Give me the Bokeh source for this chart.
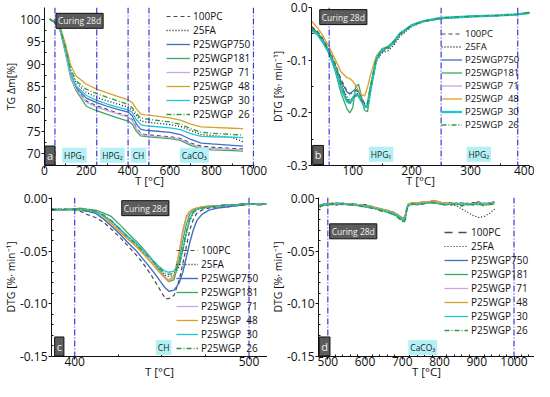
from bokeh.plotting import figure
from bokeh.models import Range1d, FixedTicker, Span, Label, Legend, LegendItem
from bokeh.layouts import column, row
from bokeh.embed import file_html
from bokeh.resources import INLINE

FONT = "Open Sans"

# ---------------- series definitions ----------------
names = ["100PC", "25FA", "P25WGP750", "P25WGP181", "P25WGP  71", "P25WGP  48", "P25WGP  30", "P25WGP  26"]
colors = ["#4a4a4a", "#1a1a1a", "#3d6fc6", "#3aa860", "#c9a6e2", "#d8a128", "#22c4d6", "#2f9a3c"]
dashes = ["4 3", "1 2", "solid", "solid", "solid", "solid", "solid", "5 2 1 2"]

# ---------------- panel a : TG ----------------
T_a = [25, 50, 75, 100, 125, 150, 200, 250, 300, 350, 400, 420, 440, 460, 480, 500, 600, 650, 700, 750, 800, 900, 950]
a_100PC = [100, 99.3, 97.7, 93.0, 87.5, 84.5, 81.8, 80.7, 79.9, 79.1, 78.4, 77.6, 75.7, 74.6, 74.3, 74.2, 73.8, 73.4, 72.4, 71.7, 71.5, 71.2, 71.1]
a_25FA = [100, 99.3, 97.9, 93.5, 88.5, 85.8, 83.7, 82.6, 81.8, 81.1, 80.4, 79.8, 78.5, 77.4, 77.1, 77.0, 76.5, 76.1, 75.2, 74.3, 74.1, 73.6, 72.7]
a_750 = [100, 99.3, 97.8, 93.2, 87.8, 84.8, 82.4, 81.4, 80.6, 79.9, 79.3, 78.5, 76.6, 75.5, 75.3, 75.2, 74.8, 74.3, 73.2, 72.4, 72.2, 71.9, 71.7]
a_181 = [100, 99.2, 97.5, 92.5, 87.0, 84.2, 80.6, 79.6, 78.8, 78.0, 77.3, 76.6, 75.0, 74.0, 73.9, 73.8, 73.4, 73.0, 71.9, 71.1, 70.9, 70.7, 70.6]
a_71 = [100, 99.3, 97.7, 92.9, 87.4, 84.4, 81.5, 80.4, 79.6, 78.9, 78.2, 77.4, 75.5, 74.4, 74.1, 74.0, 73.6, 73.2, 72.2, 71.4, 71.2, 71.0, 70.9]
a_48 = [100, 99.4, 98.3, 94.5, 89.8, 87.4, 85.5, 84.4, 83.6, 82.8, 82.0, 81.4, 80.0, 78.9, 78.7, 78.6, 78.0, 77.5, 76.6, 76.0, 75.9, 75.7, 75.6]
a_30 = [100, 99.3, 97.8, 93.3, 88.0, 85.2, 83.0, 81.9, 81.1, 80.4, 79.8, 79.2, 77.6, 76.5, 76.3, 76.2, 75.8, 75.4, 74.5, 73.9, 73.8, 73.7, 73.6]
a_26 = [100, 99.3, 98.0, 93.8, 88.9, 86.3, 84.4, 83.4, 82.6, 81.8, 81.0, 80.3, 79.0, 78.0, 77.8, 77.7, 77.1, 76.6, 75.6, 74.8, 74.6, 74.3, 74.2]

# ---------------- panel b : DTG 30-400 ----------------
T_b = [30, 40, 50, 60, 70, 80, 90, 95, 100, 105, 110, 115, 120, 125, 130, 140, 150, 160, 170, 180, 200, 220, 250, 300, 350, 380, 400]
b_100PC = [-0.036, -0.045, -0.060, -0.080, -0.106, -0.136, -0.158, -0.164, -0.162, -0.158, -0.160, -0.170, -0.184, -0.186, -0.152, -0.100, -0.084, -0.078, -0.068, -0.053, -0.035, -0.027, -0.021, -0.017, -0.015, -0.013, -0.010]
b_25FA = [-0.040, -0.048, -0.064, -0.084, -0.112, -0.145, -0.170, -0.176, -0.172, -0.163, -0.164, -0.172, -0.182, -0.182, -0.150, -0.102, -0.086, -0.082, -0.071, -0.055, -0.036, -0.027, -0.021, -0.017, -0.015, -0.013, -0.010]
b_750 = [-0.038, -0.047, -0.063, -0.083, -0.108, -0.140, -0.160, -0.164, -0.159, -0.155, -0.160, -0.174, -0.188, -0.190, -0.156, -0.098, -0.081, -0.076, -0.066, -0.051, -0.034, -0.026, -0.020, -0.017, -0.015, -0.013, -0.010]
b_181 = [-0.044, -0.052, -0.068, -0.088, -0.120, -0.162, -0.192, -0.200, -0.190, -0.150, -0.146, -0.170, -0.195, -0.198, -0.162, -0.100, -0.080, -0.075, -0.066, -0.051, -0.034, -0.026, -0.020, -0.017, -0.015, -0.013, -0.010]
b_71 = [-0.041, -0.050, -0.066, -0.086, -0.114, -0.150, -0.176, -0.182, -0.175, -0.166, -0.166, -0.176, -0.188, -0.188, -0.155, -0.099, -0.081, -0.076, -0.066, -0.051, -0.034, -0.026, -0.020, -0.017, -0.015, -0.013, -0.010]
b_48 = [-0.026, -0.038, -0.055, -0.075, -0.098, -0.122, -0.133, -0.135, -0.140, -0.148, -0.158, -0.166, -0.168, -0.152, -0.128, -0.092, -0.078, -0.074, -0.063, -0.049, -0.033, -0.026, -0.020, -0.017, -0.015, -0.013, -0.010]
b_30 = [-0.042, -0.050, -0.066, -0.086, -0.114, -0.152, -0.178, -0.182, -0.172, -0.165, -0.168, -0.178, -0.188, -0.186, -0.154, -0.098, -0.080, -0.075, -0.065, -0.050, -0.034, -0.026, -0.020, -0.017, -0.015, -0.013, -0.010]
b_26 = [-0.040, -0.048, -0.064, -0.084, -0.110, -0.146, -0.174, -0.180, -0.174, -0.167, -0.168, -0.176, -0.185, -0.184, -0.152, -0.097, -0.080, -0.075, -0.065, -0.050, -0.034, -0.026, -0.020, -0.017, -0.015, -0.013, -0.010]

# ---------------- panel c : DTG 387-510 ----------------
T_c = [387, 391, 395, 399, 403, 407, 412, 417, 421, 426, 430, 435, 439, 444, 448, 452, 454, 457, 460, 462, 464, 466, 468, 470, 473, 477, 482, 487, 492, 497, 502, 506, 510]
c_100PC = [-0.011, -0.011, -0.010, -0.011, -0.012, -0.015, -0.018, -0.023, -0.029, -0.037, -0.044, -0.053, -0.061, -0.073, -0.084, -0.095, -0.095, -0.092, -0.077, -0.062, -0.046, -0.030, -0.020, -0.014, -0.011, -0.009, -0.008, -0.008, -0.007, -0.006, -0.005, -0.006, -0.005]
c_25FA = [-0.010, -0.010, -0.010, -0.011, -0.011, -0.012, -0.013, -0.017, -0.022, -0.030, -0.036, -0.044, -0.051, -0.060, -0.067, -0.073, -0.074, -0.073, -0.064, -0.050, -0.034, -0.021, -0.014, -0.011, -0.009, -0.008, -0.007, -0.007, -0.006, -0.006, -0.005, -0.005, -0.005]
c_750 = [-0.011, -0.010, -0.011, -0.010, -0.011, -0.012, -0.014, -0.020, -0.026, -0.034, -0.041, -0.049, -0.057, -0.067, -0.076, -0.085, -0.088, -0.087, -0.080, -0.070, -0.056, -0.042, -0.030, -0.021, -0.015, -0.011, -0.009, -0.008, -0.007, -0.006, -0.005, -0.006, -0.005]
c_181 = [-0.010, -0.011, -0.010, -0.010, -0.009, -0.010, -0.011, -0.014, -0.017, -0.025, -0.032, -0.040, -0.047, -0.057, -0.066, -0.075, -0.079, -0.077, -0.058, -0.040, -0.025, -0.015, -0.011, -0.009, -0.008, -0.008, -0.007, -0.006, -0.006, -0.005, -0.005, -0.006, -0.005]
c_71 = [-0.010, -0.011, -0.010, -0.011, -0.011, -0.011, -0.012, -0.017, -0.023, -0.031, -0.037, -0.044, -0.051, -0.060, -0.068, -0.075, -0.077, -0.073, -0.052, -0.033, -0.019, -0.013, -0.010, -0.009, -0.008, -0.007, -0.007, -0.006, -0.006, -0.005, -0.005, -0.005, -0.005]
c_48 = [-0.010, -0.011, -0.010, -0.011, -0.011, -0.011, -0.012, -0.018, -0.024, -0.032, -0.038, -0.045, -0.052, -0.061, -0.069, -0.076, -0.079, -0.074, -0.050, -0.030, -0.017, -0.012, -0.010, -0.009, -0.008, -0.007, -0.007, -0.006, -0.006, -0.005, -0.005, -0.005, -0.005]
c_30 = [-0.010, -0.010, -0.011, -0.010, -0.011, -0.011, -0.013, -0.017, -0.021, -0.029, -0.035, -0.042, -0.049, -0.057, -0.064, -0.069, -0.070, -0.069, -0.061, -0.049, -0.033, -0.020, -0.013, -0.010, -0.009, -0.008, -0.007, -0.006, -0.006, -0.005, -0.005, -0.005, -0.005]
c_26 = [-0.010, -0.011, -0.010, -0.010, -0.011, -0.011, -0.012, -0.016, -0.021, -0.029, -0.036, -0.043, -0.050, -0.058, -0.065, -0.071, -0.072, -0.071, -0.062, -0.048, -0.032, -0.019, -0.013, -0.010, -0.009, -0.008, -0.007, -0.006, -0.006, -0.005, -0.005, -0.005, -0.005]

# ---------------- panel d : DTG 478-950 ----------------
T_d = [478, 490, 500, 512, 525, 540, 555, 570, 585, 600, 615, 630, 645, 660, 675, 688, 698, 704, 708, 712, 716, 725, 740, 755, 770, 785, 800, 815, 830, 845, 860, 875, 890, 905, 920, 935, 948]
d_100PC = [-0.007, -0.006, -0.005, -0.005, -0.006, -0.004, -0.005, -0.006, -0.007, -0.006, -0.008, -0.009, -0.010, -0.012, -0.013, -0.015, -0.018, -0.019, -0.016, -0.009, -0.006, -0.005, -0.004, -0.004, -0.003, -0.002, -0.004, -0.005, -0.004, -0.006, -0.005, -0.006, -0.004, -0.005, -0.006, -0.004, -0.005]
d_25FA = [-0.006, -0.006, -0.006, -0.005, -0.005, -0.005, -0.006, -0.005, -0.006, -0.007, -0.008, -0.009, -0.010, -0.011, -0.013, -0.016, -0.018, -0.020, -0.016, -0.009, -0.006, -0.005, -0.005, -0.004, -0.003, -0.003, -0.004, -0.005, -0.005, -0.007, -0.010, -0.013, -0.016, -0.018, -0.017, -0.014, -0.010]
d_750 = [-0.007, -0.005, -0.006, -0.005, -0.004, -0.005, -0.005, -0.006, -0.006, -0.007, -0.007, -0.009, -0.011, -0.012, -0.014, -0.016, -0.019, -0.020, -0.017, -0.010, -0.006, -0.005, -0.006, -0.004, -0.004, -0.003, -0.005, -0.004, -0.006, -0.005, -0.004, -0.006, -0.005, -0.003, -0.006, -0.004, -0.003]
d_181 = [-0.008, -0.006, -0.005, -0.006, -0.005, -0.005, -0.006, -0.005, -0.006, -0.008, -0.008, -0.010, -0.011, -0.013, -0.015, -0.017, -0.020, -0.022, -0.019, -0.011, -0.006, -0.004, -0.005, -0.005, -0.003, -0.004, -0.004, -0.006, -0.005, -0.004, -0.006, -0.005, -0.006, -0.004, -0.005, -0.006, -0.004]
d_71 = [-0.007, -0.006, -0.005, -0.005, -0.005, -0.006, -0.005, -0.006, -0.006, -0.007, -0.008, -0.009, -0.010, -0.012, -0.014, -0.016, -0.018, -0.020, -0.017, -0.010, -0.006, -0.005, -0.005, -0.004, -0.004, -0.003, -0.004, -0.005, -0.005, -0.005, -0.005, -0.006, -0.005, -0.005, -0.005, -0.004, -0.005]
d_48 = [-0.006, -0.006, -0.005, -0.004, -0.005, -0.005, -0.005, -0.006, -0.006, -0.007, -0.007, -0.009, -0.010, -0.011, -0.013, -0.015, -0.018, -0.019, -0.016, -0.009, -0.005, -0.004, -0.004, -0.003, -0.003, -0.002, -0.003, -0.005, -0.004, -0.005, -0.005, -0.004, -0.006, -0.004, -0.005, -0.005, -0.003]
d_30 = [-0.007, -0.005, -0.006, -0.005, -0.005, -0.004, -0.006, -0.006, -0.007, -0.007, -0.008, -0.010, -0.011, -0.012, -0.014, -0.016, -0.019, -0.021, -0.018, -0.010, -0.006, -0.006, -0.005, -0.005, -0.004, -0.004, -0.005, -0.006, -0.005, -0.006, -0.004, -0.006, -0.005, -0.006, -0.004, -0.005, -0.004]
d_26 = [-0.008, -0.006, -0.006, -0.005, -0.006, -0.005, -0.006, -0.006, -0.007, -0.008, -0.009, -0.010, -0.012, -0.013, -0.015, -0.018, -0.021, -0.023, -0.020, -0.011, -0.007, -0.005, -0.006, -0.005, -0.004, -0.004, -0.005, -0.006, -0.006, -0.005, -0.007, -0.005, -0.006, -0.005, -0.007, -0.005, -0.006]

# ---------------- axes / ticks / annotations ----------------
a_xticks = [0, 200, 400, 600, 800, 1000]
a_xlabels = ["0", "200", "400", "600", "800", "1000"]
a_yticks = [70, 75, 80, 85, 90, 95, 100]
a_ylabels = ["70", "75", "80", "85", "90", "95", "100"]
b_xticks = [100, 200, 300, 400]
b_xlabels = ["100", "200", "300", "400"]
b_yticks = [-0.3, -0.2, -0.1, 0.0]
b_ylabels = ["-0.3", "-0.2", "-0.1", "0.0"]
c_xticks = [400, 500]
c_xlabels = ["400", "500"]
cd_yticks = [-0.15, -0.10, -0.05, 0.0]
cd_ylabels = ["-0.15", "-0.10", "-0.05", "0.00"]
d_xticks = [500, 600, 700, 800, 900, 1000]
d_xlabels = ["500", "600", "700", "800", "900", "1000"]

a_vlines = [50, 250, 400, 500, 1000]
b_vlines = [60, 250, 380]
c_vlines = [400, 500]
d_vlines = [500, 1000]

a_regions = [("HPG\u2081", 143), ("HPG\u2082", 325), ("CH", 450), ("CaCO\u2083", 717)]
b_regions = [("HPG\u2081", 148), ("HPG\u2082", 314)]
c_regions = [("CH", 451)]
d_regions = [("CaCO\u2083", 755)]

VLINE_COLOR = "#3a3ad6"
REGION_BG = "#b4f1f7"
BOX_BG = "#5c5c5c"
CD_YMINOR = [-0.14, -0.13, -0.12, -0.11, -0.09, -0.08, -0.07, -0.06, -0.04, -0.03, -0.02, -0.01]


def make_panel(w, h, xr, yr, xt, xl, xminor, yt, yl, yminor, ylabel, borders):
    p = figure(width=w, height=h, x_range=Range1d(*xr), y_range=Range1d(*yr),
               output_backend="svg", toolbar_location=None,
               min_border_left=borders[0], min_border_right=borders[1],
               min_border_top=borders[2], min_border_bottom=borders[3])
    p.grid.visible = False
    p.outline_line_color = None
    p.background_fill_color = "white"
    p.border_fill_color = "white"
    xa = p.xaxis[0]
    ya = p.yaxis[0]
    xa.ticker = FixedTicker(ticks=xt, minor_ticks=xminor)
    ya.ticker = FixedTicker(ticks=yt, minor_ticks=yminor)
    xa.major_label_overrides = {t: s for t, s in zip(xt, xl)}
    ya.major_label_overrides = {t: s for t, s in zip(yt, yl)}
    for ax in (xa, ya):
        ax.axis_line_color = "#111111"
        ax.major_tick_line_color = "#111111"
        ax.minor_tick_line_color = "#111111"
        ax.major_tick_in = 0
        ax.major_tick_out = 3
        ax.minor_tick_in = 2
        ax.minor_tick_out = 0
        ax.major_label_text_font = FONT
        ax.major_label_text_font_size = "12px"
        ax.major_label_text_color = "#111111"
        ax.axis_label_text_font = FONT
        ax.axis_label_text_font_style = "normal"
        ax.axis_label_text_color = "#111111"
    xa.axis_label = "T [\u00b0C]"
    xa.axis_label_text_font_size = "11.5px"
    xa.major_label_standoff = -3
    xa.axis_label_standoff = -5
    ya.axis_label = ylabel
    ya.axis_label_text_font_size = "10.5px"
    ya.major_label_standoff = 1
    ya.axis_label_standoff = -1
    return p


def add_curves(p, T, data, widths, legend_loc, font_size, glyph_w, row_h, dash_override=None):
    items = []
    for i, vals in enumerate(data):
        dash = dashes[i]
        if dash_override and i in dash_override:
            dash = dash_override[i]
        r = p.line(T, vals, line_color=colors[i], line_dash=dash, line_width=widths[i])
        items.append(LegendItem(label=names[i], renderers=[r]))
    lg = Legend(items=items, location=legend_loc, orientation="vertical",
                background_fill_alpha=0, border_line_alpha=0,
                padding=0, margin=0, spacing=0,
                glyph_width=glyph_w, glyph_height=row_h, label_height=row_h,
                label_standoff=3, label_text_font=FONT,
                label_text_font_size=font_size, label_text_color="#111111")
    p.add_layout(lg)


def add_vlines(p, xs):
    for x in xs:
        p.add_layout(Span(location=x, dimension="height", line_color=VLINE_COLOR,
                          line_dash="6 2 1 2", line_width=1.2))


def add_regions(p, regs, y):
    for txt, x in regs:
        p.add_layout(Label(x=x, y=y, text=txt, text_align="center", text_baseline="bottom",
                           text_font=FONT, text_font_size="8.5px", text_color="#222222",
                           background_fill_color=REGION_BG, padding=2))


def add_box(p, x, y, txt, size, baseline="bottom"):
    p.add_layout(Label(x=x, y=y, text=txt, text_align="left", text_baseline=baseline,
                       text_font=FONT, text_font_size=size, text_color="#f2f2f2",
                       background_fill_color=BOX_BG, border_line_color="#111111",
                       border_line_width=1, padding=2))


W1, W2 = 267, 267
H1, H2 = 190, 191
DTG = "DTG [%\u00b7 min\u207b\u00b9]"

# panel a
pa = make_panel(W1, H1, (0, 1005), (67.4, 102.6), a_xticks, a_xlabels, list(range(100, 1000, 200)),
                a_yticks, a_ylabels, [72.5, 77.5, 82.5, 87.5, 92.5, 97.5], "TG \u0394m[%]", (5, 13, 2, 5))
add_vlines(pa, a_vlines)
add_curves(pa, T_a, [a_100PC, a_25FA, a_750, a_181, a_71, a_48, a_30, a_26],
           [1.2, 1.3, 1.3, 1.3, 1.3, 1.3, 1.3, 1.3], (122, 44), "10px", 24, 12)
add_regions(pa, a_regions, 68.0)
add_box(pa, 2, 67.5, "a", "11px")
add_box(pa, 55, 101.3, "Curing 28d", "8.5px", baseline="top")

# panel b
pb = make_panel(W2, H1, (30, 400), (-0.3, 0.0), b_xticks, b_xlabels, [50, 150, 250, 350],
                b_yticks, b_ylabels, [-0.25, -0.15, -0.05], DTG, (5, 5, 7, 5))
add_vlines(pb, b_vlines)
add_curves(pb, T_b, [b_100PC, b_25FA, b_750, b_181, b_71, b_48, b_30, b_26],
           [1.2, 1.3, 1.3, 1.3, 1.3, 1.3, 2.4, 1.5], (130, 34), "9.5px", 21, 11)
add_regions(pb, b_regions, -0.293)
add_box(pb, 32, -0.298, "b", "11px")
add_box(pb, 44, -0.004, "Curing 28d", "8.5px", baseline="top")

# panel c
pc = make_panel(W1, H2, (386.7, 510.6), (-0.15, 0.001), c_xticks, c_xlabels, [425, 450, 475],
                cd_yticks, cd_ylabels, CD_YMINOR, DTG, (5, 0, 7, 5))
add_vlines(pc, c_vlines)
add_curves(pc, T_c, [c_100PC, c_25FA, c_750, c_181, c_71, c_48, c_30, c_26],
           [1.2, 1.3, 1.4, 1.3, 1.3, 1.3, 1.3, 1.3], (125, 1), "10px", 22, 12)
add_regions(pc, c_regions, -0.1485)
add_box(pc, 388.5, -0.1495, "c", "11px")
add_box(pc, 427, -0.002, "Curing 28d", "8.5px", baseline="top")

# panel d
pd_ = make_panel(W2, H2, (475, 1055), (-0.15, 0.001), d_xticks, d_xlabels,
                 [520, 540, 560, 580, 620, 640, 660, 680, 720, 740, 760, 780, 820, 840, 860, 880, 920, 940, 960, 980, 1020, 1040],
                 cd_yticks, cd_ylabels, CD_YMINOR, DTG, (5, 0, 7, 5))
add_vlines(pd_, d_vlines)
add_curves(pd_, T_d, [d_100PC, d_25FA, d_750, d_181, d_71, d_48, d_30, d_26],
           [1.6, 1.2, 1.3, 1.3, 1.3, 1.3, 1.3, 1.5], (126, 19), "10px", 24, 12, dash_override={0: "8 6"})
add_regions(pd_, d_regions, -0.1485)
add_box(pd_, 477, -0.1495, "d", "11px")
add_box(pd_, 505, -0.024, "Curing 28d", "8.5px", baseline="top")

layout = column(row(pa, pb), row(pc, pd_))
open("out.html", "w").write(file_html(layout, INLINE))
